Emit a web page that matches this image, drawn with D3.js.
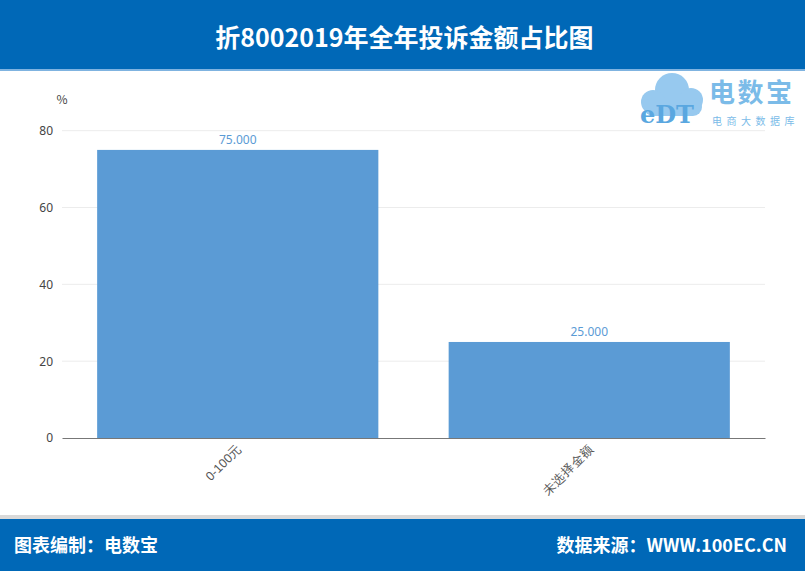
<!DOCTYPE html>
<html><head><meta charset="utf-8">
<script src="https://cdn.jsdelivr.net/npm/d3@7"></script>
<style>
body{margin:0;background:#fff;}
svg{display:block;font-family:"Noto Sans CJK SC","Noto Sans",sans-serif;}
</style></head>
<body><svg id="c" width="805" height="571"></svg>
<script>
const categories = ["0-100元", "未选择金额"];
const values = [75, 25];
const yTicks = [0, 20, 40, 60, 80];
const titleText = "折8002019年全年投诉金额占比图";
const footerLeft = "图表编制：电数宝";
const footerRight = "数据来源：WWW.100EC.CN";

const svg = d3.select("#c");
const W = 805, H = 571;
const blue = "#0068b7";

// header
svg.append("rect").attr("x",0).attr("y",0).attr("width",W).attr("height",70).attr("fill",blue);
svg.append("rect").attr("x",0).attr("y",69).attr("width",W).attr("height",2).attr("fill","#7fb3e0");
svg.append("text").attr("x",W/2+2).attr("y",47).attr("text-anchor","middle")
  .attr("fill","#fff").attr("font-size",25).attr("font-weight","bold").text(titleText);

// footer
svg.append("rect").attr("x",0).attr("y",515).attr("width",W).attr("height",4).attr("fill","#d9d9d9");
svg.append("rect").attr("x",0).attr("y",519).attr("width",W).attr("height",H-519).attr("fill",blue);
svg.append("text").attr("x",14).attr("y",552).attr("fill","#fff").attr("font-size",18).attr("font-weight","bold").text(footerLeft);
svg.append("text").attr("x",787).attr("y",552).attr("text-anchor","end").attr("fill","#fff").attr("font-size",18).attr("font-weight","bold").text(footerRight);

// logo
const lg = svg.append("g").attr("transform","translate(636,70)");
const cloud = lg.append("g").attr("fill","#8cc4ee").attr("opacity",0.9);
cloud.append("circle").attr("cx",36).attr("cy",20).attr("r",17);
cloud.append("circle").attr("cx",17).attr("cy",32).attr("r",12);
cloud.append("circle").attr("cx",55).attr("cy",30).attr("r",12);
cloud.append("rect").attr("x",8).attr("y",28).attr("width",58).attr("height",18).attr("rx",9);
lg.append("text").attr("x",4).attr("y",53).attr("font-size",24).attr("font-weight","bold")
  .attr("font-family","DejaVu Serif, serif").attr("fill","#5aa7e0").text("eDT");
lg.append("text").attr("x",73).attr("y",32).attr("font-size",26).attr("font-weight","bold").attr("fill","#7bbbe8").attr("letter-spacing",2.5).text("电数宝");
lg.append("text").attr("x",76).attr("y",55).attr("font-size",10).attr("fill","#7bbbe8").attr("letter-spacing",4.5).text("电商大数据库");

// plot
const x0 = 62, x1 = 765, yTop = 130.7, yBot = 438;
const y = d3.scaleLinear().domain([0,80]).range([yBot,yTop]);
const x = d3.scaleBand().domain(categories).range([x0,x1]).paddingInner(0.2).paddingOuter(0.1);

const g = svg.append("g");
g.selectAll("line.grid").data(yTicks.filter(d=>d>0)).join("line")
  .attr("x1",x0).attr("x2",x1).attr("y1",d=>y(d)).attr("y2",d=>y(d))
  .attr("stroke","#ececec").attr("stroke-width",1);

const yAxis = d3.axisLeft(y).tickValues(yTicks).tickSize(0).tickPadding(9);
const ya = g.append("g").attr("transform",`translate(${x0},0)`).call(yAxis);
ya.select(".domain").remove();
ya.selectAll("text").attr("font-size",12).attr("fill","#444").attr("font-family","Noto Sans, sans-serif");

g.append("text").attr("x",62).attr("y",104).attr("text-anchor","middle").attr("font-size",12).attr("fill","#444").text("%");

g.selectAll("rect.bar").data(values).join("rect")
  .attr("x",(d,i)=>x(categories[i])).attr("width",x.bandwidth())
  .attr("y",d=>y(d)).attr("height",d=>yBot-y(d)).attr("fill","#5b9bd5");

g.selectAll("text.val").data(values).join("text")
  .attr("x",(d,i)=>x(categories[i])+x.bandwidth()/2).attr("y",d=>y(d)-6)
  .attr("text-anchor","middle").attr("font-size",12).attr("fill","#5b9bd5")
  .attr("font-family","Noto Sans, sans-serif").text(d=>d3.format(".3f")(d));

const xAxis = d3.axisBottom(x).tickSize(0).tickPadding(8);
const xa = g.append("g").attr("transform",`translate(0,${yBot})`).call(xAxis);
xa.select(".domain").attr("stroke","#777");
xa.selectAll("text").attr("font-size",12.5).attr("fill","#555")
  .attr("text-anchor","end").attr("dy","0.35em")
  .attr("transform","translate(-4,3) rotate(-45)");
</script></body></html>
